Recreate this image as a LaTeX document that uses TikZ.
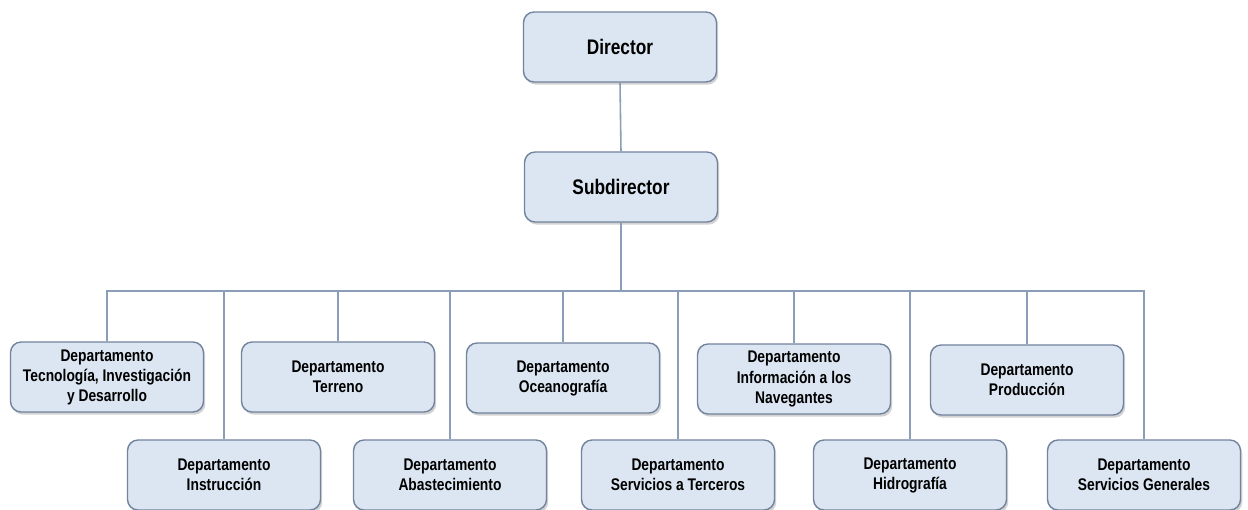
\documentclass[tikz,border=0pt]{standalone}
\usepackage{fontspec}
\setmainfont{Liberation Sans}[FakeStretch=0.82]
\usetikzlibrary{shadows}
\definecolor{boxfill}{HTML}{DCE6F2}
\definecolor{boxline}{HTML}{71839D}
\definecolor{linkcol}{HTML}{8A9EB8}

\begin{document}
\begin{tikzpicture}[
  x=0.02cm, y=-0.02cm,
  unidad/.style={rounded corners=6pt, line width=0.8pt, draw=boxline, fill=boxfill,
                 minimum width=3.86cm, minimum height=1.4cm, align=center, inner sep=2pt,
                 font=\fontsize{9.6}{11.4}\selectfont\bfseries,
                 drop shadow={shadow xshift=1pt, shadow yshift=-1.5pt, opacity=0.35}},
  jefe/.style={unidad, font=\fontsize{12}{14}\selectfont\bfseries},
  link/.style={linkcol, line width=0.9pt},
]

% Background
\useasboundingbox[fill=white] (0,0) rectangle (1248,510);

% === Top: Director and Subdirector ===
\node[jefe] (dir) at (620,47) {Director};
\node[jefe] (sub) at (621,187) {Subdirector};
\draw[link] (dir.south) -- (sub.north);

% === Row 1: upper departments ===
\node[unidad] (tec) at (107,377) {Departamento\\Tecnología, Investigación\\y Desarrollo};
\node[unidad] (ter) at (338,377) {Departamento\\Terreno};
\node[unidad] (oce) at (563,378) {Departamento\\Oceanografía};
\node[unidad] (inf) at (794,379) {Departamento\\Información a los\\Navegantes};
\node[unidad] (pro) at (1027,380) {Departamento\\Producción};

% === Row 2: lower departments ===
\node[unidad] (ins) at (224,475) {Departamento\\Instrucción};
\node[unidad] (aba) at (450,475) {Departamento\\Abastecimiento};
\node[unidad] (ter3) at (678,475) {Departamento\\Servicios a Terceros};
\node[unidad] (hid) at (910,475) {Departamento\\Hidrografía};
\node[unidad] (sgen) at (1144,475) {Departamento\\Servicios Generales};

% Bus from Subdirector to all departments
\coordinate (bus) at (621,291);
\draw[link] (sub.south) -- (bus);
\foreach \d in {tec,ins,ter,aba,oce,ter3,inf,hid,pro,sgen}
  \draw[link] (bus) -| (\d.north);

\end{tikzpicture}
\end{document}
